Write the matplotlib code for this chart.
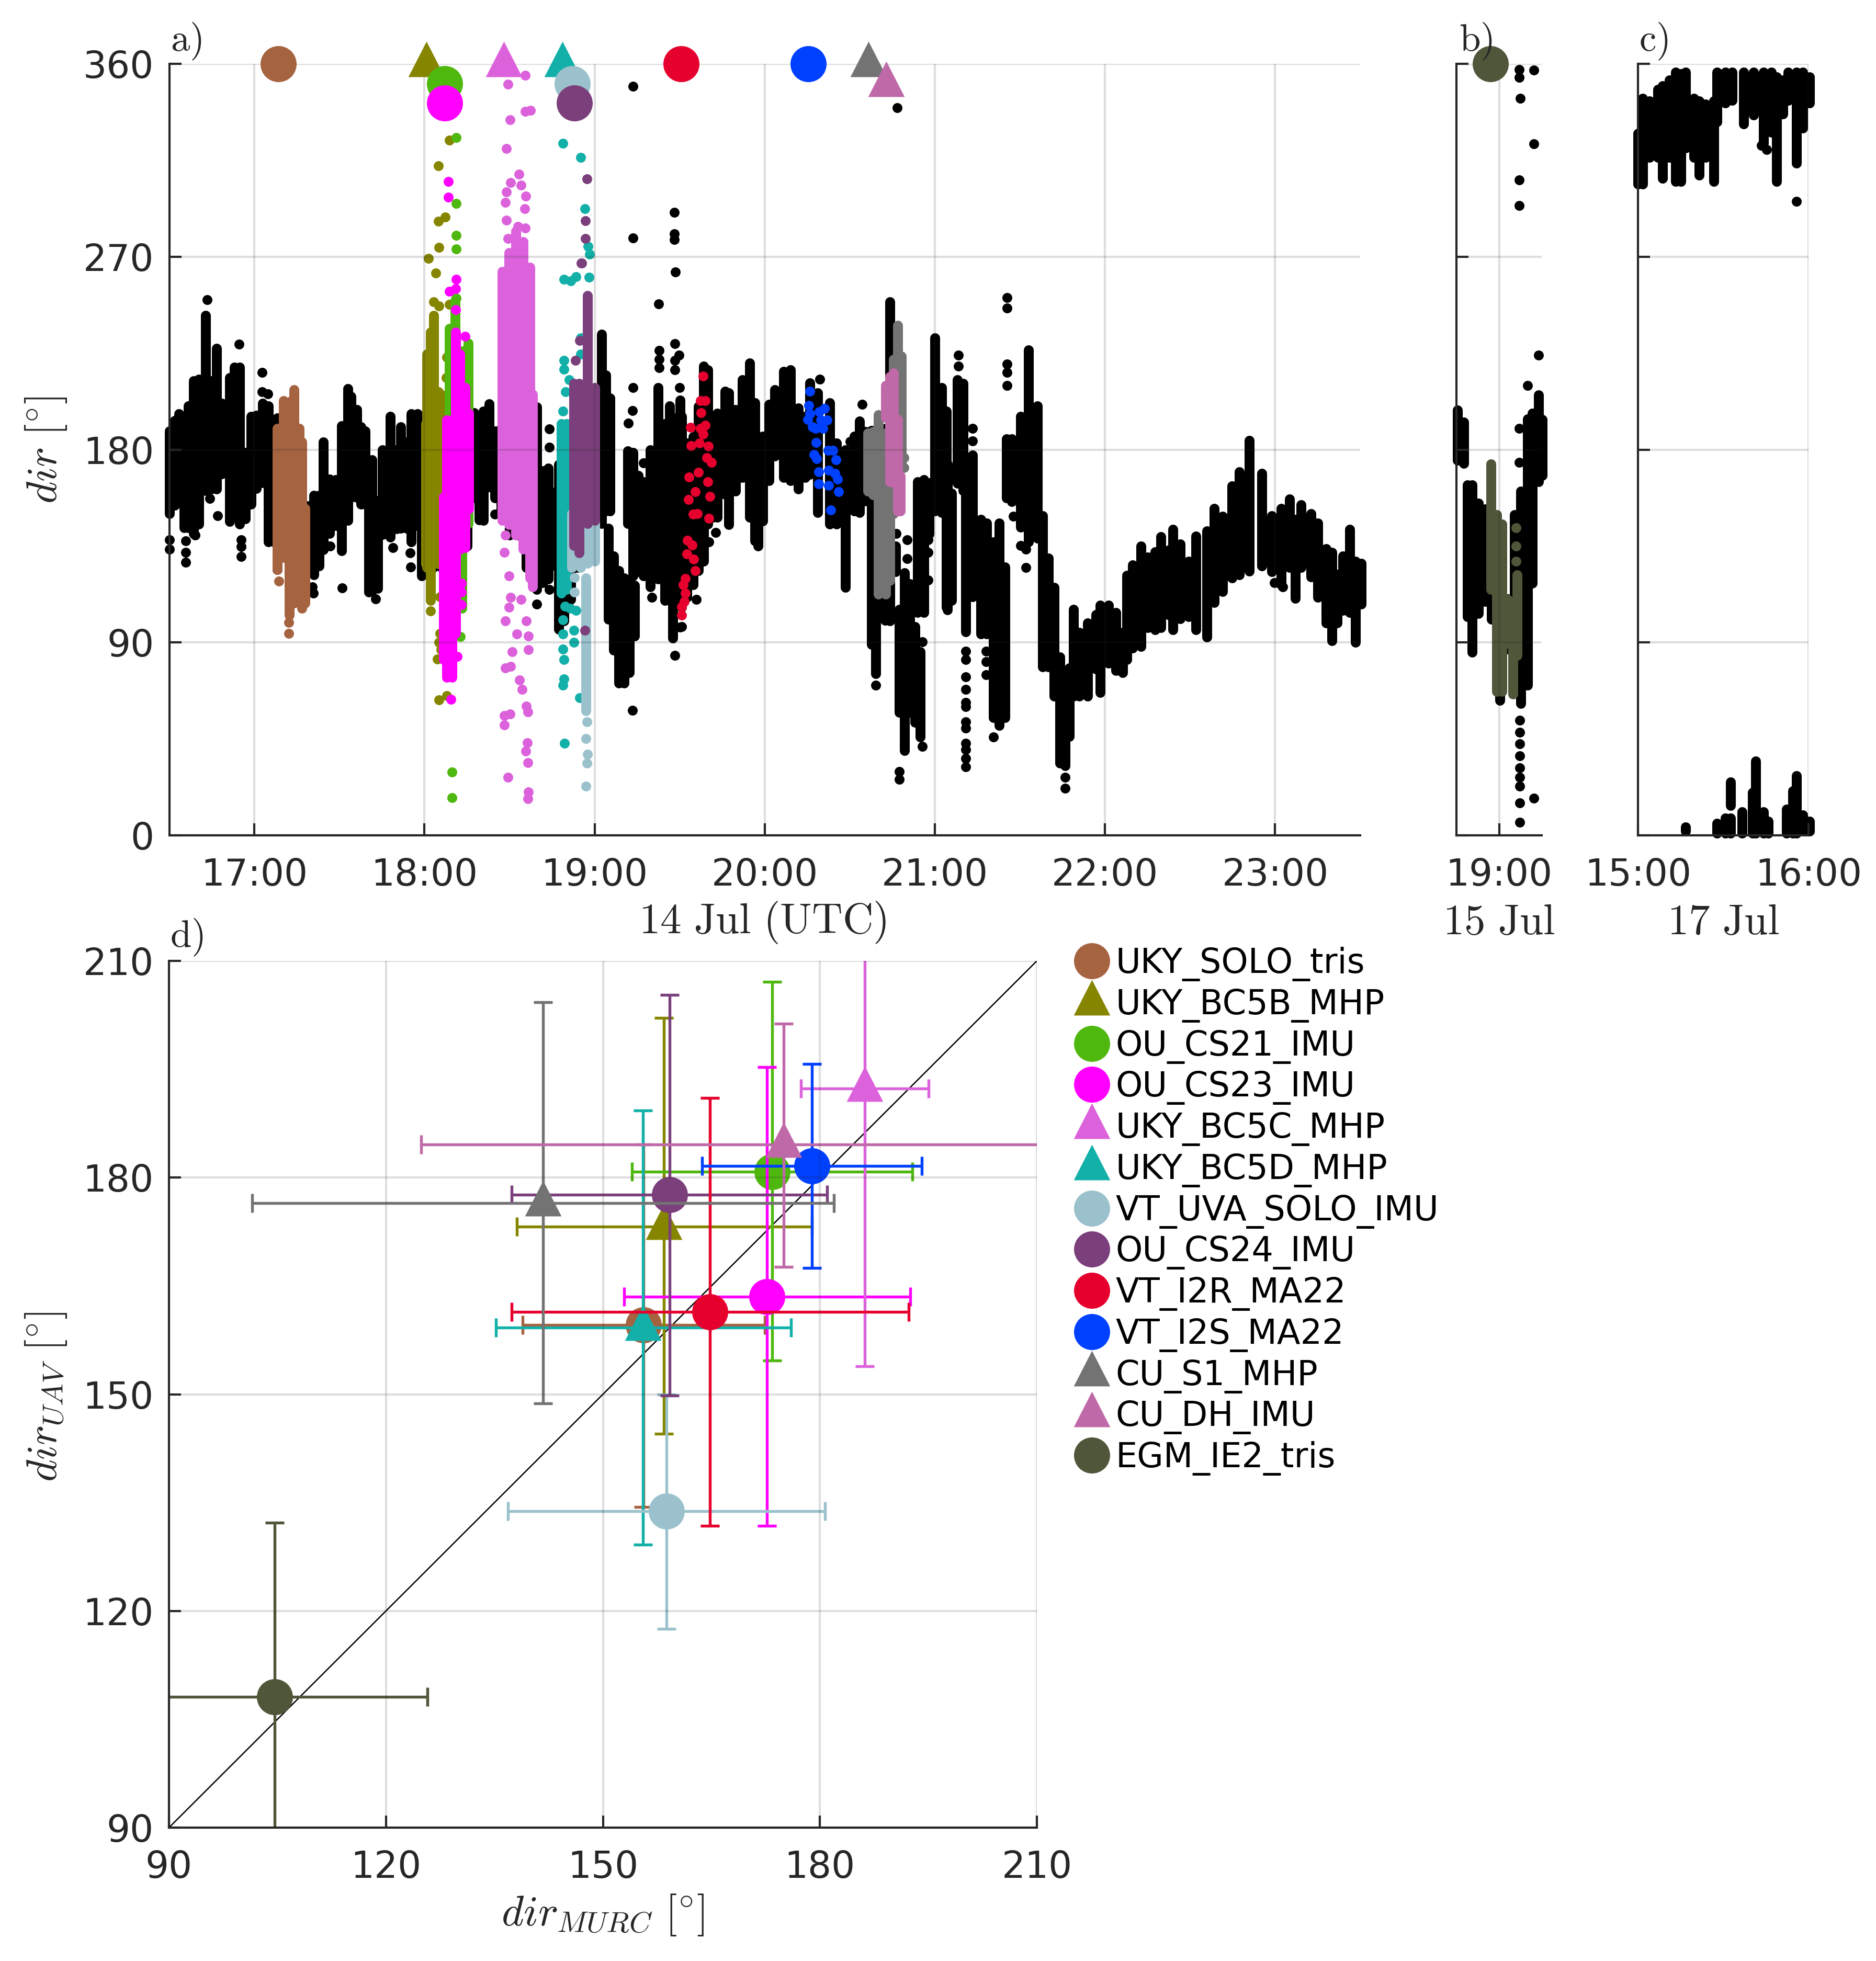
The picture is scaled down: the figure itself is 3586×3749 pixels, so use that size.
# encoding="utf-8"
# wind direction at MURC vs UAV, 14-17 Jul

import matplotlib
matplotlib.use("Agg")
import matplotlib.pyplot as plt
from matplotlib.lines import Line2D

W, H = 3586, 3749
DPI = 300

names = ["UKY_SOLO_tris", "UKY_BC5B_MHP", "OU_CS21_IMU", "OU_CS23_IMU", "UKY_BC5C_MHP", "UKY_BC5D_MHP",
         "VT_UVA_SOLO_IMU", "OU_CS24_IMU", "VT_I2R_MA22", "VT_I2S_MA22", "CU_S1_MHP", "CU_DH_IMU", "EGM_IE2_tris"]
colors = ["#A66340", "#858500", "#4FB80F", "#FF00FF", "#DC62DC", "#12B0A8",
          "#9AC1CC", "#7B3F7B", "#E6002E", "#0040FF", "#737373", "#BF69A8", "#4F5639"]
is_tri = [False, True, False, False, True, True, False, False, False, False, True, True, False]

# header markers along the top of panel a (the last one sits in panel b)
head_t = [17.14, 18.01, 18.12, 18.12, 18.465, 18.81, 18.87, 18.88, 19.51, 20.255, 20.61, 20.715, 18.95]
head_d = [360, 360, 350.8, 341.7, 360, 360, 350.8, 341.7, 360, 360, 360, 350.8, 360]

# panel a, black: time (h), low and high of each dense column
black_t = [16.50, 16.531, 16.557, 16.588, 16.613, 16.644, 16.675, 16.715, 16.746, 16.777, 16.808, 16.854, 16.884,
           16.915, 16.946, 16.982, 17.012, 17.048, 17.084, 17.115, 17.135, 17.197, 17.258, 17.309, 17.35, 17.381,
           17.406, 17.442, 17.478, 17.514, 17.55, 17.57, 17.601, 17.626, 17.652, 17.672, 17.693, 17.724, 17.754,
           17.8, 17.836, 17.862, 17.893, 17.923, 17.959, 17.985, 18.05, 18.1, 18.15, 18.2, 18.25,
           18.292, 18.322, 18.348, 18.379, 18.415, 18.45, 18.5, 18.55, 18.6, 18.661, 18.697, 18.728, 18.764, 18.79,
           18.82, 18.86, 18.9, 18.95, 19.0, 19.041, 19.067, 19.092, 19.082, 19.113, 19.144, 19.175, 19.205, 19.236,
           19.195, 19.226, 19.257, 19.287, 19.328, 19.375, 19.412, 19.441, 19.46, 19.503,
           19.511, 19.542, 19.578, 19.609, 19.64, 19.665, 19.695, 19.721, 19.767, 19.788, 19.829, 19.87, 19.911,
           19.942, 19.962, 19.988, 20.024, 20.06, 20.111, 20.152, 20.198, 20.239, 20.264, 20.31, 20.382, 20.423,
           20.474, 20.526, 20.556, 20.592, 20.628, 20.654, 20.71, 20.737, 20.771, 20.792, 20.823, 20.854, 20.884,
           20.9, 20.915, 20.935, 20.966, 21.0, 21.041, 21.069, 21.074, 21.099, 21.132, 21.165, 21.181, 21.223, 21.272, 21.305,
           21.346, 21.379, 21.412, 21.42, 21.453, 21.503, 21.552, 21.602, 21.635, 21.668, 21.701, 21.734, 21.767,
           21.791, 21.816, 21.849, 21.898, 21.948, 21.973, 22.022, 22.063, 22.105, 22.13, 22.162, 22.212, 22.253,
           22.294, 22.327, 22.377, 22.4, 22.443, 22.492, 22.533, 22.6, 22.641, 22.69, 22.748, 22.789, 22.847,
           22.921, 22.979, 23.036, 23.086, 23.119, 23.152, 23.21, 23.251, 23.3, 23.333, 23.366, 23.399, 23.44,
           23.473, 23.506]
black_lo = [150.1, 153.9, 157.6, 143.4, 143.4, 140.9, 145.2, 160.8, 161.5, 161.5, 168.7, 146.4, 168.7,
            145.1, 147.6, 154.5, 161.9, 164.4, 136.9, 136.9, 124, 140, 126, 129.6, 121.5, 125.8,
            133.3, 140.9, 144.5, 132.7, 147, 157.6, 157.6, 154.5, 154.5, 113.4, 114, 115.3, 140.4,
            139.2, 143, 143.3, 143.3, 136.9, 144.5, 121.1, 125, 125, 130, 130, 135,
            157.4, 147.1, 147, 162.6, 157.4, 150, 140, 140, 125, 114.6, 118, 119.7, 126, 96.2,
            100, 110, 125, 130, 150, 145.5, 151.4, 151.4, 100.9, 86.4, 71, 71, 76, 93,
            145.5, 121, 123, 121, 116, 119.7, 109.5, 109.5, 92, 115,
            106.3, 111, 117, 123.4, 128, 145.2, 148.3, 148.3, 159.2, 145, 160.7, 167, 148.3,
            137.4, 135, 146.7, 165.4, 177, 167, 165.4, 161.5, 167, 168.5, 150.6, 145.2, 145.2,
            115.7, 151.4, 150.6, 156, 89.2, 75.3, 101.7, 100, 123, 57.4, 39.5, 57.4, 52.7,
            104, 46, 104, 140.5, 151.4, 150.6, 106.3, 105.2, 109.5, 164.3, 160.8, 95, 111.2, 94, 94,
            54.8, 51.3, 54.8, 157.4, 155.7, 143.7, 136.9, 138.6, 78.7, 78.7, 65, 33.6, 32.5,
            46.2, 65, 65, 65, 77.7, 66.7, 80.4, 77, 75.9, 82.1, 87.3, 88, 96.8,
            95.9, 96.8, 102.8, 95.9, 101, 102, 96, 92.6, 108.7, 113.8, 120, 121.5, 123.2,
            126.6, 123, 117, 125, 110.5, 125, 120.6, 111, 99.2, 90.7, 99, 105, 104,
            90, 107.8]
black_hi = [188.6, 193.6, 196.7, 187.3, 200.4, 212.2, 212.9, 242.7, 212.2, 227.2, 201.7, 213.5, 218.5,
            218.5, 178.6, 195.4, 196, 201.7, 200.4, 193.6, 194.8, 195, 170, 153.7, 158.7, 158.7,
            183.6, 166.2, 166, 191.1, 208.5, 204.8, 198.6, 190.5, 188.6, 160, 175.3, 156.2, 179.9,
            195.4, 180, 190.6, 183.6, 196.7, 196.7, 187.3, 195, 195, 190, 195, 190,
            197.1, 195.4, 197.9, 201.4, 188.6, 190, 195, 195, 195, 199.9, 170, 171.4, 160, 173,
            175, 175, 180, 185, 190, 233.9, 214.9, 204, 143.2, 130.4, 123.6, 120.2, 118.4, 116.7,
            179.3, 178.6, 168, 165, 180, 209, 192, 200.5, 195, 203,
            195.5, 183, 186, 200.2, 218.9, 217.3, 190.9, 197, 207.2, 206.4, 198.6, 212.6, 220.4,
            201.8, 184.7, 186.2, 201, 208, 216.5, 217.3, 199.4, 195.5, 211, 206.4, 201.8, 183,
            180, 186.2, 193.2, 188.5, 189, 180, 190, 249, 135, 105.4, 122.5, 117.5, 97.3,
            165, 85.6, 166, 164.5, 232, 209, 197.9, 173.2, 159.5, 212.5, 210.8, 168, 177.4, 147.5, 145.8,
            137, 145.8, 125.2, 185, 185, 195.4, 226.4, 200.5, 149.2, 129.4, 115.8, 83.3, 73,
            78.2, 105.5, 94.6, 99, 103, 107.5, 107.5, 104, 94.6, 121.2, 126.3, 134.9, 129.8,
            132.4, 139.3, 133.3, 142.7, 136, 128, 139.6, 142, 152.6, 149, 163, 169.7, 184.3,
            168.9, 149.2, 152.6, 156.9, 147.5, 154.3, 150, 145.8, 133.8, 132, 121.8, 130.4, 142.7,
            128, 127]
# black points standing apart from the columns
black_iso_t = [16.724, 16.912, 17.045, 17.045, 17.079, 16.739, 16.784, 16.5, 16.5, 16.598, 16.598, 16.598, 16.651, 16.922, 16.922,
               16.922, 17.447, 17.517, 17.34, 17.348, 17.813, 17.916, 17.918, 17.713, 19.474, 19.378, 19.38, 19.38, 19.38, 19.472,
               19.498, 19.472, 19.472, 19.226, 19.224, 19.198, 19.5, 19.288, 18.733, 18.733, 18.733, 18.661, 19.224, 19.472,
               19.503, 19.337, 18.415, 20.572, 20.502, 20.324, 20.708, 20.772, 19.598, 19.511, 19.673, 19.713, 20.654, 20.792,
               20.792, 20.838, 20.838, 20.925, 20.925, 20.96, 20.96, 20.96, 21.14, 21.14, 21.223, 21.22, 21.181,
               21.181, 21.181, 21.181, 21.181, 21.181, 21.181, 21.181, 21.181, 21.181, 21.181, 21.181, 21.3, 21.3, 21.3,
               21.424, 21.424, 21.424, 21.424, 21.424, 21.462, 21.503, 21.536, 21.536, 21.767, 21.767, 23.119, 22.995, 23.045,
               22.921, 22.4, 21.346, 20.78, 19.225, 19.225, 19.47, 19.47, 19.47]
black_iso_d = [250, 229.2, 216.1, 207, 206.1, 157.2, 149.1, 137.9, 133.6, 137.5, 132, 127.3, 140, 137.9, 134.8,
               130, 135, 115.5, 116, 113, 134.2, 131.7, 125.1, 110.2, 262.8, 247.9, 226.2, 222, 218.3, 229.4,
               224, 221.7, 217.1, 208.9, 198.1, 192.3, 208.9, 173.8, 189.6, 181, 114.8, 108, 58.3, 84,
               97.2, 111, 149.9, 201, 183.9, 212.8, 100.4, 140.8, 110, 97.3, 136.9, 141.3, 70, 29.7,
               26.2, 137.9, 129.1, 90.3, 41.4, 119, 132, 138, 224, 219, 190, 184, 86,
               82, 74, 68, 62, 60, 53, 50, 43, 40, 36, 32, 86, 81, 75,
               250.8, 246, 220, 216, 210, 149, 135.3, 125, 133.6, 27, 22, 112.7, 117.9, 116,
               125.6, 140.5, 46, 339.6, 349.6, 278.7, 290.8, 280.8, 277.9]

# panel a, coloured flights: dense columns
dense_t = {
    0: [17.135, 17.171, 17.207, 17.232, 17.263, 17.278, 17.299],
    1: [18.009, 18.014, 18.035, 18.055, 18.081, 18.097],
    2: [18.148, 18.179, 18.22, 18.256],
    3: [18.112, 18.132, 18.163, 18.184, 18.209, 18.24, 18.26],
    4: [18.456, 18.497, 18.538, 18.579, 18.62, 18.635],
    5: [18.805, 18.836],
    6: [18.866, 18.918, 18.959, 19.0, 18.949],
    7: [18.877, 18.908, 18.959, 19.0],
    8: [],
    9: [],
    10: [20.608, 20.638, 20.669, 20.71, 20.736, 20.756, 20.782, 20.802],
    11: [20.71, 20.736, 20.756, 20.782, 20.797],
}
dense_lo = {
    0: [124, 129.6, 102.8, 108.4, 140, 106, 108.4],
    1: [126.6, 125, 109.5, 136.9, 126.6, 160],
    2: [196.6, 167.7, 106, 145.4],
    3: [82, 73.6, 73.6, 94.1, 133.5, 134.3, 152.3],
    4: [147, 145, 140, 133.5, 120, 116],
    5: [113, 114.6],
    6: [125, 125, 127, 128, 58],
    7: [135.2, 131.7, 145.4, 147],
    8: [],
    9: [],
    10: [160.7, 159, 112.6, 112.6, 118.8, 150, 180, 173],
    11: [195, 165, 164.6, 151.4, 151.4],
}
dense_hi = {
    0: [189.8, 202.9, 202.3, 207.9, 189.8, 183.6, 152.5],
    1: [192, 224.5, 234.8, 242.5, 207, 205.7],
    2: [236.5, 248.4, 226, 229.6],
    3: [157.8, 193.7, 193.7, 234.8, 224.5, 209, 197],
    4: [263, 272, 282, 277, 265, 205.7],
    5: [192, 192],
    6: [150, 150, 150, 150, 120],
    7: [210.8, 210.8, 251.9, 209],
    8: [],
    9: [],
    10: [187.8, 188.5, 196.3, 187.8, 178, 222, 238, 223.5],
    11: [210, 214, 215.7, 194, 167.6],
}
# panel a, coloured flights: single points
iso_t = {
    0: [17.145, 17.204, 17.204],
    1: [18.068, 18.055, 18.086, 18.148, 18.132, 18.127, 18.035, 18.091, 18.091, 18.086, 18.076, 18.086, 18.132, 18.097,
        18.148, 18.083, 18.083, 18.123, 18.086, 18.025],
    2: [18.211, 18.213, 18.161, 18.161, 18.188, 18.188, 18.188, 18.188, 18.188, 18.179, 18.179],
    3: [18.187, 18.184, 18.148, 18.182, 18.184, 18.24, 18.218, 18.218, 18.218, 18.194, 18.155, 18.141, 18.141],
    4: [18.557, 18.507, 18.483, 18.569, 18.597, 18.476, 18.589, 18.483, 18.55, 18.594, 18.492, 18.594, 18.492, 18.594,
        18.622, 18.502, 18.483, 18.476, 18.476, 18.471, 18.497, 18.497, 18.507, 18.569, 18.6, 18.543, 18.61, 18.61,
        18.517, 18.476, 18.507, 18.559, 18.574, 18.6, 18.608, 18.471, 18.502, 18.471, 18.605, 18.597, 18.607, 18.49,
        18.612, 18.607],
    5: [18.82, 18.861, 18.892, 18.969, 18.82, 18.82, 18.851, 18.83, 18.815, 18.815, 18.815, 18.82, 18.82, 18.815, 18.823,
        18.913, 18.877, 18.825, 18.856, 18.815, 18.877, 18.892, 18.918, 18.918, 18.815, 18.917, 18.942, 18.96, 18.972],
    6: [18.882, 18.882, 18.954, 18.949, 18.957, 18.954, 18.949],
    7: [18.889, 18.923, 18.943, 18.913, 18.955, 18.947, 18.947, 18.925],
    8: [19.639, 19.624, 19.65, 19.627, 19.563, 19.624, 19.65, 19.639, 19.566, 19.616, 19.67, 19.66, 19.686, 19.554,
        19.609, 19.667, 19.593, 19.552, 19.678, 19.578, 19.603, 19.673, 19.547, 19.573, 19.542, 19.583, 19.593, 19.532,
        19.522, 19.532, 19.527, 19.511, 19.511],
    9: [20.264, 20.259, 20.264, 20.254, 20.28, 20.351, 20.321, 20.331, 20.367, 20.3, 20.341, 20.302, 20.29, 20.305,
        20.372, 20.401, 20.418, 20.316, 20.316, 20.377, 20.413, 20.428, 20.377, 20.433, 20.387],
    10: [20.818, 20.818],
    11: [],
}
iso_d = {
    0: [118.5, 99.3, 94.3],
    1: [262.3, 249, 247, 247.7, 223, 213.5, 104.8, 111.4, 94.3, 90, 82.3, 63.1, 65.2, 86.6,
        324.4, 312.5, 286.6, 288.6, 274.4, 269.2],
    2: [92.8, 106.3, 29.6, 17.6, 325.5, 294.8, 280, 273.7, 250.7, 249.7, 239.7],
    3: [259.5, 255, 253.9, 245.4, 233.7, 232.9, 117.7, 113.6, 107.6, 83.5, 63.5, 305, 297.8],
    4: [308.6, 304.6, 300.3, 303.3, 298.3, 295.3, 292.4, 287, 284.1, 283.4, 278.5, 354.6, 350.5, 337.7,
        338.2, 333.9, 320.5, 100, 140, 132, 121, 106.5, 111, 110, 100, 94, 93, 86.7,
        85.7, 78, 78.9, 72.4, 68.2, 60.2, 57.5, 55.8, 56.6, 51.5, 43.3, 39.2, 33.9, 27,
        20.2, 17],
    5: [259.5, 258.6, 260.7, 260.3, 221.7, 217.4, 212.6, 207, 198, 94, 87, 82, 73, 70, 42.9,
        64.2, 90, 107, 106, 100.5, 95.7, 105, 232, 224.5, 323, 316.4, 292.4, 274.7, 271.2],
    6: [120.4, 113.6, 52.9, 45.2, 37.9, 33.7, 23],
    7: [221.7, 267, 95.7, 231, 306.4, 286.7, 278.5, 267.1],
    8: [214.3, 202.7, 202.7, 197.2, 190.3, 189.8, 191.3, 187.1, 181.9, 183.1, 181.6, 176.1, 173.9, 167.3,
        169.4, 164.9, 160.3, 156.8, 158.2, 149.9, 150.2, 147.8, 137.7, 135.4, 131.2, 128.9, 123.4, 119.9,
        116.8, 113, 109, 106.6, 102.8],
    9: [207.2, 200.7, 196.8, 194, 190.6, 199.1, 197.6, 193.7, 193.7, 189.8, 189.8, 183.3, 177.8, 175.8,
        179.7, 179.7, 175.3, 169.6, 164.1, 170.4, 168.8, 166.2, 163.4, 160.3, 151.7],
    10: [176.3, 171.6],
    11: [],
}

# panel b
b_black_t = [18.756, 18.794, 18.813, 18.842, 18.88, 18.918, 18.956, 19.004, 19.052, 19.09, 19.128, 19.166, 19.195, 19.233, 19.252]
b_black_lo = [175, 173.6, 102, 85.4, 103.6, 109, 100.8, 63, 86.8, 75.6, 61.6, 70, 117.6, 165, 168]
b_black_hi = [198.5, 192.9, 163.5, 163.5, 155, 152.3, 143.9, 124.3, 110.3, 149.5, 160.7, 194.3, 197, 205.5, 194]
b_iso_t = [19.122, 19.122, 19.122, 19.122, 19.122, 19.122, 19.122, 19.122, 19.122, 19.204, 19.233, 19.166, 19.118, 19.118,
           19.118, 19.118, 19.204, 19.124, 19.204, 19.118, 19.118]
b_iso_d = [53.8, 48.2, 42.6, 37, 31.4, 27.2, 23, 15.1, 6.2, 17.4, 224, 210, 190, 174,
           357.2, 353.6, 357, 344, 322.7, 305.9, 293.9]
egm_t = [18.952, 18.985, 19.017, 19.05, 19.08, 19.105]
egm_lo = [114.8, 67, 67, 89.6, 65.8, 84]
egm_hi = [173.4, 149.5, 145.3, 110, 107.5, 121.5]
egm_iso_t = [19.099, 19.099, 19.099]
egm_iso_d = [143.4, 135, 128]

# panel c
c_black_t = [15.0, 15.029, 15.068, 15.116, 15.145, 15.184, 15.222, 15.251, 15.28, 15.329, 15.358, 15.397, 15.445, 15.464,
             15.513, 15.551, 15.619, 15.677, 15.735, 15.783, 15.812, 15.851, 15.88, 15.928, 15.967, 16.006,
             15.28, 15.464, 15.513, 15.542, 15.542, 15.609, 15.671, 15.69, 15.735, 15.764, 15.87, 15.909, 15.928,
             15.967, 16.006]
c_black_lo = [303.8, 303.8, 316.4, 316.4, 306.6, 316.4, 305.2, 305.2, 320.6, 316.4, 308, 316.4, 305.2, 333,
              341.6, 343, 332, 336, 323, 328, 305.2, 336.5, 343, 313.6, 330, 341.6,
              2, 1, 1, 14, 1, 1, 1, 1, 1, 1, 1, 1, 1, 2, 2]
c_black_hi = [327.5, 344, 342.7, 348, 349.7, 352.5, 356, 355.3, 356, 344, 342.7, 341.3, 342.7, 356,
              356, 356, 356, 356, 356, 356, 354, 352.5, 356, 356, 356, 354,
              4, 5.6, 8, 25, 8, 11, 20, 34.7, 11, 6.7, 12.3, 20.8, 27.8, 9.5, 6.7]
c_iso_t = [15.928, 15.725, 15.754]
c_iso_d = [295.7, 321.9, 320]

# panel d, one entry per flight, same order as names
d_x = [155.6, 158.4, 173.4, 172.7, 186.2, 155.5, 158.8, 159.2, 164.8, 178.9, 141.7, 175, 104.6]
d_y = [159.6, 173.2, 180.8, 163.5, 192.3, 159.2, 133.8, 177.6, 161.4, 181.6, 176.5, 184.6, 108.1]
d_x_lo = [138.9, 138.1, 154, 152.9, 177.4, 135.2, 136.9, 137.4, 137.4, 163.7, 101.5, 124.9, 84]
d_x_hi = [172.4, 178.9, 192.8, 192.5, 195, 176, 180.7, 181, 192.3, 194.1, 181.9, 216, 125.7]
d_y_lo = [134.4, 144.5, 154.7, 131.8, 153.9, 129.2, 117.5, 149.8, 131.8, 167.5, 148.7, 167.6, 84]
d_y_hi = [184.6, 202.1, 207.1, 195.3, 213, 189.3, 150, 205.3, 191, 195.7, 204.3, 201.3, 132.2]

a_xticks = [17, 18, 19, 20, 21, 22, 23]
a_xlabels = ["17:00", "18:00", "19:00", "20:00", "21:00", "22:00", "23:00"]
dir_ticks = [0, 90, 180, 270, 360]
d_ticks = [90, 120, 150, 180, 210]

plt.rcParams['font.family'] = ['DejaVu Sans']
plt.rcParams['mathtext.fontset'] = 'cm'

DARK = "#262626"
TICK_FS = 17.0
LABEL_FS = 17.5
PX = 72 / DPI          # one pixel in points
DOT = 19 * PX
BIG_C = 69 * PX
BIG_T = 86 * PX
TRI = [(0, 1), (-0.81, -0.58), (0.81, -0.58), (0, 1)]


def px_axes(fig, left, right, top, bottom):
    return fig.add_axes([left / W, 1 - bottom / H, (right - left) / W, (bottom - top) / H])


def style(ax):
    for side in ["top", "right"]:
        ax.spines[side].set_visible(False)
    for side in ["left", "bottom"]:
        ax.spines[side].set_color(DARK)
        ax.spines[side].set_linewidth(1.0)
    ax.set_axisbelow(False)
    ax.grid(True, color=DARK, alpha=0.15, linewidth=1.0)
    ax.tick_params(direction="in", length=23 * PX, width=1.0, color=DARK, labelcolor=DARK,
                   labelsize=TICK_FS)
    ax.tick_params(axis="x", pad=10)
    ax.tick_params(axis="y", pad=7)


def columns(ax, t, lo, hi, color):
    ax.vlines(t, lo, hi, colors=color, linewidth=DOT, capstyle="round", clip_on=False, zorder=2)


def dots(ax, t, d, color):
    ax.plot(t, d, "o", color=color, ms=DOT, mew=0, clip_on=False, zorder=2)


fig = plt.figure(figsize=(W / DPI, H / DPI), dpi=DPI)

# panel a
ax_a = px_axes(fig, 323.5, 2600, 122, 1597)
style(ax_a)
columns(ax_a, black_t, black_lo, black_hi, "k")
dots(ax_a, black_iso_t, black_iso_d, "k")
for i in range(12):
    columns(ax_a, dense_t[i], dense_lo[i], dense_hi[i], colors[i])
    dots(ax_a, iso_t[i], iso_d[i], colors[i])
    ax_a.plot(head_t[i], head_d[i], marker=TRI if is_tri[i] else "o", color=colors[i],
              ms=BIG_T if is_tri[i] else BIG_C, mew=0, clip_on=False, zorder=3)
ax_a.set_xlim(16.5, 23.5)
ax_a.set_ylim(0, 360)
ax_a.set_xticks(a_xticks, a_xlabels)
ax_a.set_yticks(dir_ticks)

# panel b
ax_b = px_axes(fig, 2784, 2947, 122, 1597)
style(ax_b)
columns(ax_b, b_black_t, b_black_lo, b_black_hi, "k")
dots(ax_b, b_iso_t, b_iso_d, "k")
columns(ax_b, egm_t, egm_lo, egm_hi, colors[12])
dots(ax_b, egm_iso_t, egm_iso_d, colors[12])
ax_b.plot(head_t[12], head_d[12], "o", color=colors[12], ms=BIG_C, mew=0, clip_on=False, zorder=3)
ax_b.set_xlim(18.75, 19.25)
ax_b.set_ylim(0, 360)
ax_b.set_xticks([19], ["19:00"])
ax_b.set_yticks(dir_ticks, [])

# panel c
ax_c = px_axes(fig, 3131, 3457, 122, 1597)
style(ax_c)
columns(ax_c, c_black_t, c_black_lo, c_black_hi, "k")
dots(ax_c, c_iso_t, c_iso_d, "k")
ax_c.set_xlim(15, 16)
ax_c.set_ylim(0, 360)
ax_c.set_xticks([15, 16], ["15:00", "16:00"])
ax_c.set_yticks(dir_ticks, [])

# panel d
ax_d = px_axes(fig, 323, 1982, 1837, 3494)
style(ax_d)
ax_d.plot([90, 210], [90, 210], color="k", lw=0.6, zorder=1.5)
handles = []
for i in range(13):
    xerr = [[d_x[i] - d_x_lo[i]], [d_x_hi[i] - d_x[i]]]
    yerr = [[d_y[i] - d_y_lo[i]], [d_y_hi[i] - d_y[i]]]
    mk = TRI if is_tri[i] else "o"
    ms = BIG_T if is_tri[i] else BIG_C
    ax_d.errorbar([d_x[i]], [d_y[i]], xerr=xerr, yerr=yerr, fmt="none", ecolor=colors[i],
                  elinewidth=1.3, capsize=18 * PX, capthick=1.3, zorder=2)
    ax_d.plot([d_x[i]], [d_y[i]], linestyle="none", marker=mk, ms=ms, mew=0, color=colors[i], zorder=2)
    handles.append(Line2D([], [], linestyle="none", marker=mk, ms=ms, mew=0, color=colors[i], label=names[i]))
ax_d.set_xlim(90, 210)
ax_d.set_ylim(90, 210)
ax_d.set_xticks(d_ticks)
ax_d.set_yticks(d_ticks)

fig.legend(handles=handles, loc="upper left", bbox_to_anchor=(2054 / W, 1 - 1810 / H), frameon=False,
           fontsize=15.7, labelspacing=0.195, handlelength=1.0, handletextpad=0.2, borderpad=0, borderaxespad=0,
           labelcolor="k")

# panel letters and axis labels
fig.text(326 / W, 1 - 97 / H, r"$\mathrm{a)}$", fontsize=LABEL_FS, color=DARK)
fig.text(2789 / W, 1 - 97 / H, r"$\mathrm{b)}$", fontsize=LABEL_FS, color=DARK)
fig.text(3133 / W, 1 - 97 / H, r"$\mathrm{c)}$", fontsize=LABEL_FS, color=DARK)
fig.text(325 / W, 1 - 1810 / H, r"$\mathrm{d)}$", fontsize=LABEL_FS, color=DARK)

fig.text(1458 / W, 1 - 1764 / H, r"$\mathrm{14\ Jul\ (UTC)}$", fontsize=LABEL_FS + 2, color=DARK, ha="center", va="center")
fig.text(2865 / W, 1 - 1764 / H, r"$\mathrm{15\ Jul}$", fontsize=LABEL_FS + 2, color=DARK, ha="center", va="center")
fig.text(3294 / W, 1 - 1764 / H, r"$\mathrm{17\ Jul}$", fontsize=LABEL_FS + 2, color=DARK, ha="center", va="center")
fig.text(88 / W, 1 - 860 / H, r"$dir\ [^{\circ}]$", fontsize=LABEL_FS + 2, color=DARK, ha="center", va="center", rotation=90)
fig.text(88 / W, 1 - 2670 / H, r"$dir_{UAV}\ [^{\circ}]$", fontsize=LABEL_FS + 2, color=DARK, ha="center", va="center", rotation=90)
fig.text(1152 / W, 1 - 3661 / H, r"$dir_{MURC}\ [^{\circ}]$", fontsize=LABEL_FS + 2, color=DARK, ha="center", va="center")

fig.savefig("out.png", dpi=DPI, facecolor="white")
